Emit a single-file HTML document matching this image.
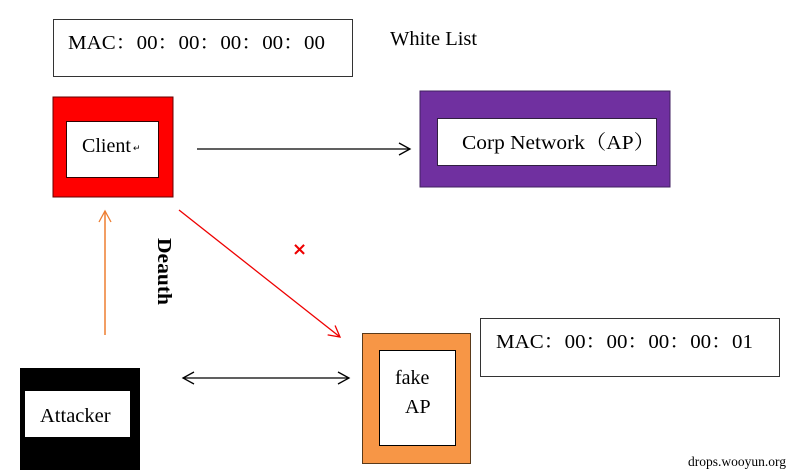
<!DOCTYPE html>
<html><head><meta charset="utf-8"><style>
html,body{margin:0;padding:0;background:#fff;}
svg{display:block;}
text{font-family:"Liberation Serif","Noto Serif CJK SC",serif;fill:#000;}
</style></head><body>
<svg width="794" height="475" viewBox="0 0 794 475" xmlns="http://www.w3.org/2000/svg">
<defs>
<marker id="ab" markerWidth="14" markerHeight="14" refX="12" refY="7" orient="auto" markerUnits="userSpaceOnUse"><path d="M1,1 L12,7 L1,13" fill="none" stroke="#000" stroke-width="1.3"/></marker>
<marker id="ar" markerWidth="14" markerHeight="14" refX="12" refY="7" orient="auto" markerUnits="userSpaceOnUse"><path d="M1,1 L12,7 L1,13" fill="none" stroke="#e00" stroke-width="1.3"/></marker>
<marker id="ao" markerWidth="14" markerHeight="14" refX="12" refY="7" orient="auto" markerUnits="userSpaceOnUse"><path d="M1,1 L12,7 L1,13" fill="none" stroke="#ed7d31" stroke-width="1.3"/></marker>
<marker id="abs" markerWidth="14" markerHeight="14" refX="2" refY="7" orient="auto" markerUnits="userSpaceOnUse"><path d="M13,1 L2,7 L13,13" fill="none" stroke="#000" stroke-width="1.3"/></marker>
</defs>
<rect x="53.5" y="19.5" width="299" height="57" fill="#fff" stroke="#333" stroke-width="1"/>
<text x="68" y="49" font-size="20" textLength="257" lengthAdjust="spacingAndGlyphs">MAC：00：00：00：00：00</text>
<text x="390" y="45" font-size="20.5">White List</text>
<rect x="53" y="97" width="120" height="100" fill="#f00" stroke="#600" stroke-width="1"/>
<rect x="66.5" y="121.5" width="92" height="56" fill="#fff" stroke="#300" stroke-width="1"/>
<text x="82" y="152" font-size="20">Client</text><text x="133" y="151" font-size="9" fill="#888">↵</text>
<rect x="420" y="91" width="250" height="96" fill="#7030a0" stroke="#402060"/>
<rect x="437.5" y="118.5" width="219" height="47" fill="#fff" stroke="#302040"/>
<text x="462" y="149" font-size="20" textLength="193" lengthAdjust="spacingAndGlyphs">Corp Network（AP）</text>
<line x1="197" y1="149" x2="410" y2="149" stroke="#000" stroke-width="1.3" marker-end="url(#ab)"/>
<line x1="105" y1="335" x2="105" y2="211" stroke="#ed7d31" stroke-width="1.5" marker-end="url(#ao)"/>
<text transform="translate(158,238) rotate(90)" font-size="20" font-weight="bold" textLength="67" lengthAdjust="spacingAndGlyphs">Deauth</text>
<line x1="179" y1="210" x2="340" y2="337" stroke="#e00" stroke-width="1.3" marker-end="url(#ar)"/>
<text x="292" y="255" font-size="18" font-weight="bold" style="fill:#e00;font-family:'DejaVu Sans',sans-serif">×</text>
<line x1="183" y1="378" x2="349" y2="378" stroke="#000" stroke-width="1.3" marker-start="url(#abs)" marker-end="url(#ab)"/>
<rect x="20" y="368" width="120" height="102" fill="#000"/>
<rect x="25" y="391" width="105" height="46" fill="#fff"/>
<text x="40" y="422" font-size="20.5">Attacker</text>
<rect x="362.5" y="333.5" width="108" height="130" fill="#f79646" stroke="#5a3a1a"/>
<rect x="379.5" y="350.5" width="76" height="95" fill="#fff" stroke="#000"/>
<text x="395" y="384" font-size="20">fake</text>
<text x="405" y="413" font-size="20">AP</text>
<rect x="480.5" y="318.5" width="299" height="58" fill="#fff" stroke="#333"/>
<text x="496" y="348" font-size="20" textLength="257" lengthAdjust="spacingAndGlyphs">MAC：00：00：00：00：01</text>
<text x="688" y="466" font-size="13.5">drops.wooyun.org</text>
</svg>
</body></html>
